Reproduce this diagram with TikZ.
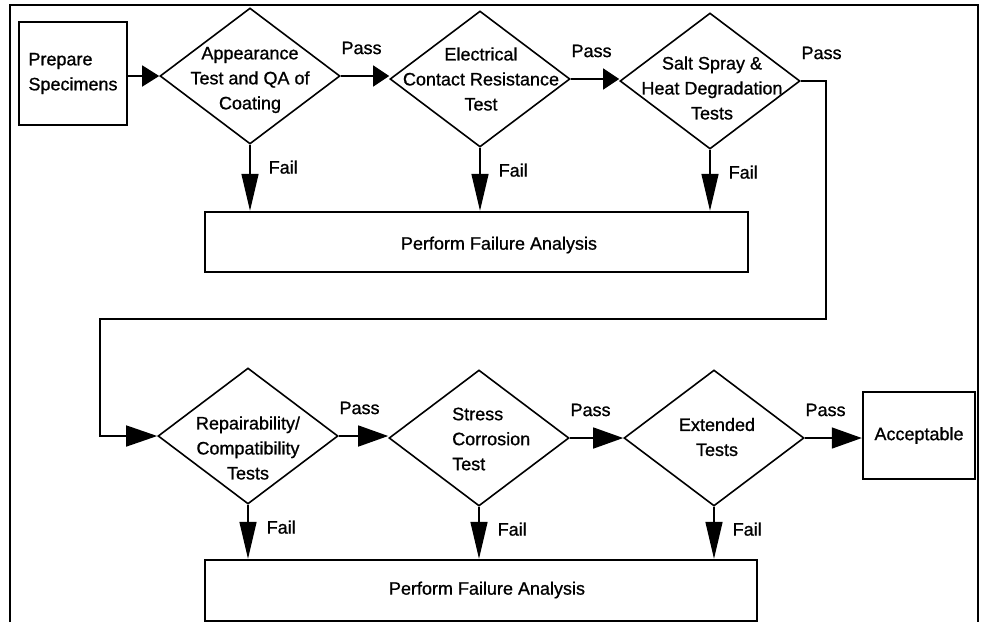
\documentclass[tikz,border=0pt]{standalone}
\usepackage{fontspec}
\setmainfont{Liberation Sans}[UprightFeatures = {FakeBold = 0.9}]
\usetikzlibrary{shapes.geometric,arrows.meta}

\begin{document}
\begin{tikzpicture}[x = 1pt, y = -1pt,
        every node/.append style = {font = \fontsize{18}{25}\selectfont},
        box/.style = {draw, rectangle, line width = 2.4pt, inner sep = 0pt, align = left},
        decision/.style = {draw, diamond, line width = 1.6pt, inner sep = 0pt,
            minimum width = 180pt, minimum height = 136pt},
        flowtext/.style = {align = center, inner sep = 0pt},
        passline/.style = {line width = 1.5pt, -{Triangle[length = #1, width = 21pt]}},
        passline/.default = 16pt,
        failline/.style = {line width = 1.5pt, -{Triangle[length = 37pt, width = 17pt]}},
        passlabel/.style = {pos = 0, anchor = south west, inner sep = 0pt, yshift = 21pt},
        faillabel/.style = {pos = 0, anchor = north west, inner sep = 0pt, xshift = 18pt, yshift = -15pt}]
        \useasboundingbox (0,0) rectangle (982,622);
        \draw[line width = 2.4pt] (10,622) -- (10,5) -- (978,5) -- (978,622);

        \node[box, minimum width = 108pt, minimum height = 103pt] (prep) at (73,73.5) {Prepare\\Specimens};
        \node[decision] (appear) at (250,76) {};
        \node[decision] (elec) at (480,79) {};
        \node[decision] (salt) at (710,81) {};
        \node[box, minimum width = 543pt, minimum height = 60pt] (fail1) at (476.5,242) {};

        \node[decision] (repair) at (248,436) {};
        \node[decision] (stress) at (479,438) {};
        \node[decision] (ext) at (714,438) {};
        \node[box, minimum width = 112pt, minimum height = 87pt] (accept) at (919,435.5) {Acceptable};
        \node[box, minimum width = 552pt, minimum height = 61pt] (fail2) at (481,590.5) {};

        \node[flowtext] (appeartext) at (250,80) {Appearance\\Test and QA of\\Coating};
        \node[flowtext] (electext) at (481,79) {Electrical\\Contact Resistance\\Test};
        \node[flowtext] (salttext) at (712,88) {Salt Spray \&\\Heat Degradation\\Tests};
        \node[flowtext] (repairtext) at (248,448) {Repairability/\\Compatibility\\Tests};
        \node[flowtext, align = left, anchor = west] (stresstext) at (452,439) {Stress\\Corrosion\\Test};
        \node[flowtext] (exttext) at (717,437) {Extended\\Tests};
        \node[flowtext] (fail1text) at (499,245) {Perform Failure Analysis};
        \node[flowtext] (fail2text) at (487,590) {Perform Failure Analysis};

        \coordinate (turnA) at (826,319);
        \coordinate (turnB) at (100,319);

        \draw[passline = 17pt] (prep.east |- appear.west) -- (appear.west);
        \foreach \a/\b in {appear/elec, elec/salt} {
            \draw[passline] (\a.east) -- node[passlabel] {Pass} (\a.east -| \b.west);
        }
        \draw[passline = 31pt] (salt.east) -| node[passlabel] {Pass} (turnA) -- (turnB) |- (repair.west);
        \foreach \a/\b in {repair/stress, stress/ext, ext/accept} {
            \draw[passline = 30pt] (\a.east) -- node[passlabel] {Pass} (\a.east -| \b.west);
        }

        \foreach \d in {appear, elec, salt} {
            \draw[failline] (\d.south) -- node[faillabel] {Fail} (\d.south |- fail1.north);
        }
        \foreach \d in {repair, stress, ext} {
            \draw[failline] (\d.south) -- node[faillabel] {Fail} (\d.south |- fail2.north);
        }
    \end{tikzpicture}
\end{document}
